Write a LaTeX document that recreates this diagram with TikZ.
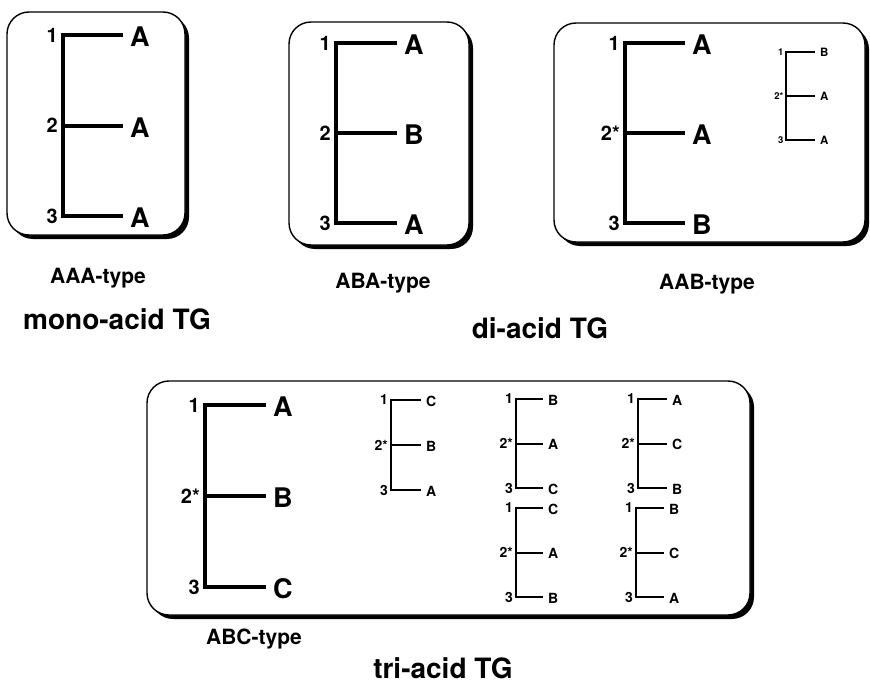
\documentclass[tikz,border=0pt]{standalone}
\usepackage{fontspec}
\setmainfont{TeX Gyre Heros}

% label of the middle carbon (sn-2); "2*" marks a chiral centre
\newcommand\midno{2*}

% one triacylglycerol fork: #1 size prefix, #2 name, #3 spine x, #4 top y,
% #5 spacing, #6 arm length, #7-#9 acyl letters at sn-1, sn-2, sn-3
\newcommand\tgfork[9]{%
  \coordinate (#2-t) at (#3,#4);
  \coordinate (#2-m) at (#3,#4+#5);
  \coordinate (#2-b) at (#3,#4+2*#5);
  \coordinate (#2-ea) at (#3+#6,#4);
  \coordinate (#2-eb) at (#3+#6,#4+#5);
  \coordinate (#2-ec) at (#3+#6,#4+2*#5);
  \draw[#1arm] (#2-ea) -- (#2-t) -- (#2-b) -- (#2-ec);
  \draw[#1arm] (#2-m) -- (#2-eb);
  \node[#1let] (#2-la) at (#2-ea) {#7};
  \node[#1let] (#2-lb) at (#2-eb) {#8};
  \node[#1let] (#2-lc) at (#2-ec) {#9};
  \node[#1num] (#2-n1) at (#2-t) {1};
  \node[#1num] (#2-n2) at (#2-m) {\midno};
  \node[#1num] (#2-n3) at (#2-b) {3};
}

% rounded frame with a hard drop shadow to the lower right
\newcommand\shadowframe[4]{%
  \fill[frameshadow] (#1+4,#2+4) rectangle (#3+4,#4+4);
  \draw[frame] (#1,#2) rectangle (#3,#4);
}

\tikzset{
  frame/.style={draw=black, line width=1.4pt, fill=white, rounded corners=22pt},
  frameshadow/.style={fill=black, rounded corners=22pt},
  bigarm/.style={line width=4pt, line join=miter, line cap=butt},
  smallarm/.style={line width=2pt, line join=miter, line cap=butt},
  tinyarm/.style={line width=1.8pt, line join=miter, line cap=butt},
  biglet/.style={anchor=west, inner sep=0pt, xshift=7pt, yshift=-2pt,
    font=\fontsize{27}{27}\selectfont\bfseries},
  smalllet/.style={anchor=west, inner sep=0pt, xshift=5pt, yshift=-1pt,
    font=\fontsize{14}{14}\selectfont\bfseries},
  tinylet/.style={anchor=west, inner sep=0pt, xshift=5pt,
    font=\fontsize{11.5}{11.5}\selectfont\bfseries},
  bignum/.style={anchor=east, inner sep=0pt, xshift=-5pt,
    font=\fontsize{20}{20}\selectfont\bfseries},
  smallnum/.style={anchor=east, inner sep=0pt, xshift=-3pt,
    font=\fontsize{14}{14}\selectfont\bfseries},
  tinynum/.style={anchor=east, inner sep=0pt, xshift=-2.5pt,
    font=\fontsize{9.5}{9.5}\selectfont\bfseries},
  typelabel/.style={inner sep=0pt, font=\fontsize{21}{21}\selectfont\bfseries},
  grouptitle/.style={inner sep=0pt, font=\fontsize{28}{28}\selectfont\bfseries},
}

\begin{document}
\begin{tikzpicture}[x=1pt, y=-1pt]
\useasboundingbox (0,0) rectangle (870,685);

% frames
\shadowframe{7}{12}{185}{235}
\shadowframe{289}{22}{469}{245}
\shadowframe{554}{23}{865}{242}
\shadowframe{147}{381}{750}{615}

% mono-acid and ABA di-acid forms (achiral middle carbon)
\begin{scope}
  \renewcommand\midno{2}
  \tgfork{big}{aaa}{63}{35}{90.5}{60}{A}{A}{A}
  \tgfork{big}{aba}{336}{43}{90}{61}{A}{B}{A}
\end{scope}

% AAB type and its enantiomer
\tgfork{big}{aab}{625}{43}{90}{60}{A}{A}{B}
\tgfork{tiny}{baa}{786}{52}{44}{29}{B}{A}{A}

% ABC type and its stereo/positional isomers
\tgfork{big}{abc}{205}{405}{91}{61}{A}{B}{C}
\tgfork{small}{cba}{391}{400}{45}{30}{C}{B}{A}
\tgfork{small}{bac}{516}{399}{44.5}{27}{B}{A}{C}
\tgfork{small}{acb}{638}{399}{44.5}{29}{A}{C}{B}
\tgfork{small}{cab}{516}{508}{44.5}{27}{C}{A}{B}
\tgfork{small}{bca}{636}{508}{44.5}{28}{B}{C}{A}

% captions
\node[typelabel] (t-aaa) at (98,278) {AAA-type};
\node[typelabel] (t-aba) at (383,283) {ABA-type};
\node[typelabel] (t-aab) at (707,284) {AAB-type};
\node[typelabel] (t-abc) at (254,639) {ABC-type};
\node[grouptitle] (g-mono) at (117,319) {mono-acid TG};
\node[grouptitle] (g-di) at (540,328) {di-acid TG};
\node[grouptitle] (g-tri) at (443,668) {tri-acid TG};
\end{tikzpicture}
\end{document}
